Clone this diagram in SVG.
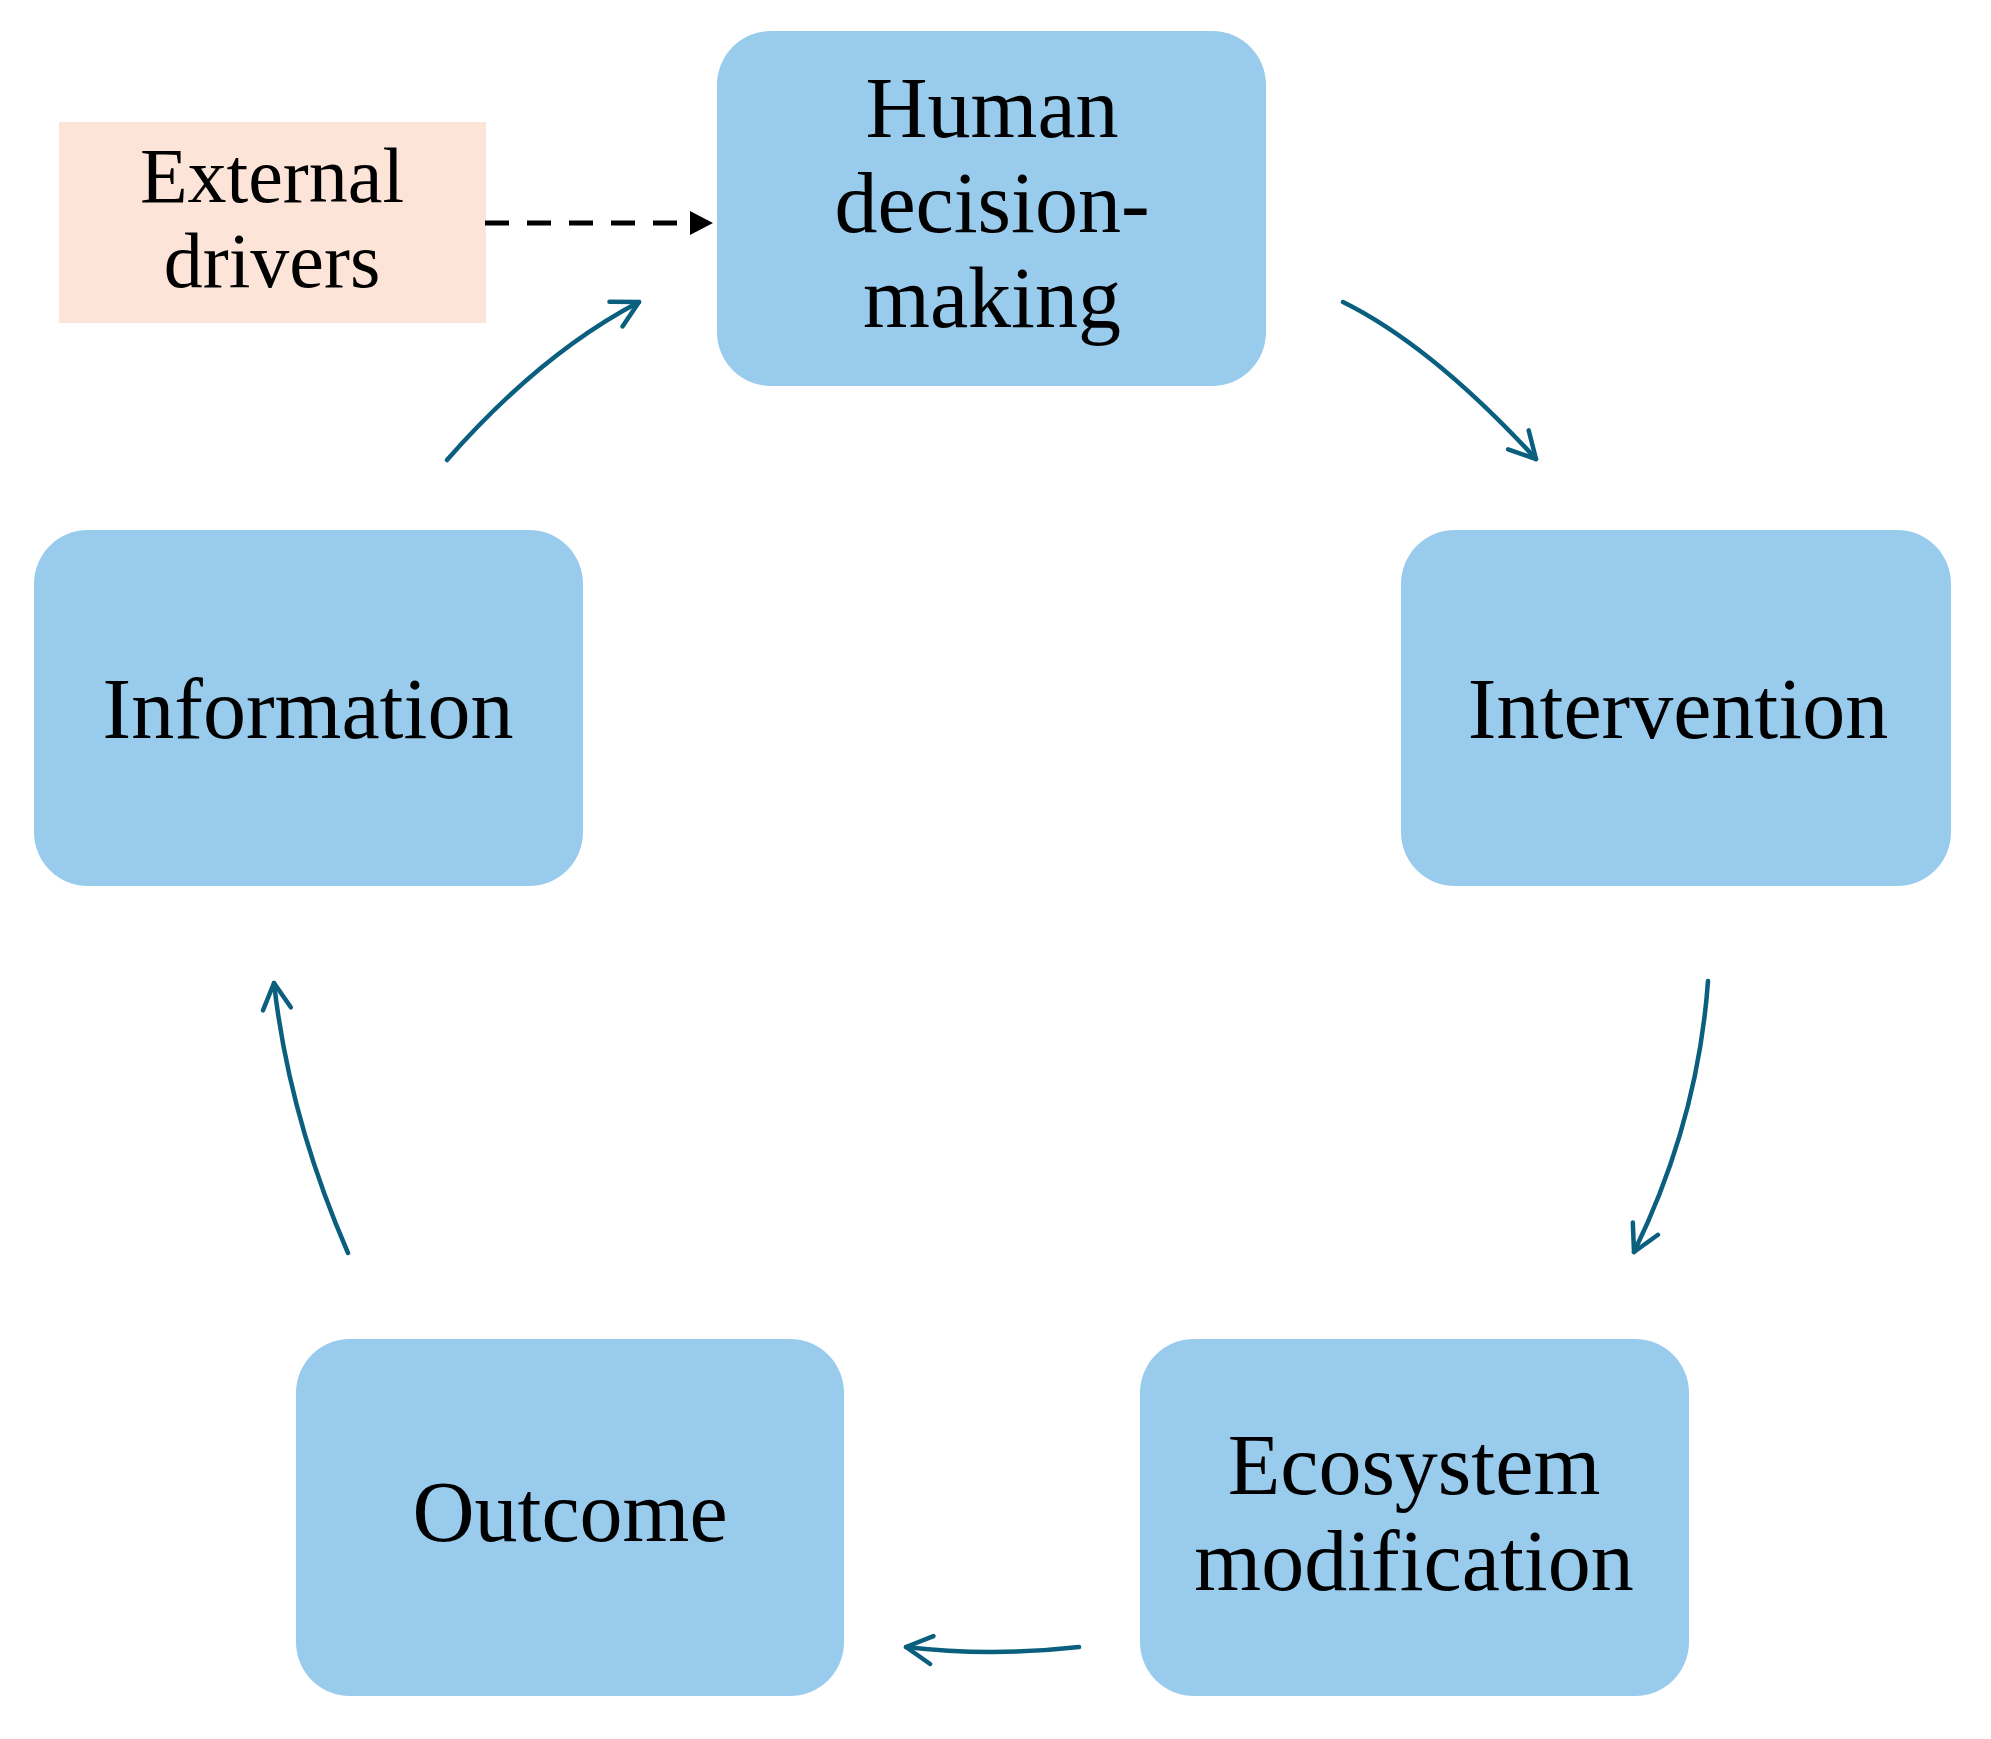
<svg xmlns="http://www.w3.org/2000/svg" width="1991" height="1739" viewBox="0 0 1991 1739">
<style>
.box{fill:#99cbed;}
.ext{fill:#fce4d8;}
.lbl{font-family:"Liberation Serif","Times New Roman",serif;font-size:86px;fill:#000;text-anchor:middle;}
.lbl2{font-family:"Liberation Serif","Times New Roman",serif;font-size:78px;fill:#000;text-anchor:middle;}
.flow{fill:none;stroke:#0a5f7f;stroke-width:4.5;stroke-linecap:round;marker-end:url(#open);}
.dash{fill:none;stroke:#000;stroke-width:5;stroke-dasharray:24 18;marker-end:url(#solid);}
</style>
<defs>
<marker id="open" markerUnits="userSpaceOnUse" viewBox="-34 -20 40 40" refX="0" refY="0" markerWidth="40" markerHeight="40" orient="auto" overflow="visible">
<path d="M -26 -14 L 0 0 L -26 14" fill="none" stroke="#0a5f7f" stroke-width="4.5" stroke-linecap="round" stroke-linejoin="round"/>
</marker>
<marker id="solid" markerUnits="userSpaceOnUse" viewBox="0 -14 26 28" refX="0" refY="0" markerWidth="26" markerHeight="28" orient="auto" overflow="visible">
<path d="M 0 -12 L 23 0 L 0 12 Z" fill="#000"/>
</marker>
</defs>
<rect width="1991" height="1739" fill="#fff"/>
<g id="external">
<rect class="ext" x="59" y="122" width="427" height="201"/>
<text class="lbl2" x="272" y="202">External</text>
<text class="lbl2" x="272" y="287">drivers</text>
</g>
<g id="human">
<rect class="box" x="717" y="31" width="549" height="355" rx="54" ry="54"/>
<text class="lbl" x="992" y="137">Human</text>
<text class="lbl" x="992" y="232">decision-</text>
<text class="lbl" x="992" y="327">making</text>
</g>
<g id="information">
<rect class="box" x="34" y="530" width="549" height="356" rx="54" ry="54"/>
<text class="lbl" x="308" y="738">Information</text>
</g>
<g id="intervention">
<rect class="box" x="1401" y="530" width="550" height="356" rx="54" ry="54"/>
<text class="lbl" x="1678" y="738">Intervention</text>
</g>
<g id="outcome">
<rect class="box" x="296" y="1339" width="548" height="357" rx="54" ry="54"/>
<text class="lbl" x="570" y="1541">Outcome</text>
</g>
<g id="ecosystem">
<rect class="box" x="1140" y="1339" width="549" height="357" rx="54" ry="54"/>
<text class="lbl" x="1414" y="1494">Ecosystem</text>
<text class="lbl" x="1414" y="1590">modification</text>
</g>
<g id="connectors">
<path class="dash" d="M 485 223 L 690 223"/>
<path class="flow" d="M 447 460 Q 540 354 639 302"/>
<path class="flow" d="M 1343 302 Q 1432 346 1536 459"/>
<path class="flow" d="M 1708 981 Q 1698 1121 1634 1252"/>
<path class="flow" d="M 1079 1647 Q 990 1657 906 1647"/>
<path class="flow" d="M 348 1253 Q 289 1117 274 983"/>
</g>
</svg>
